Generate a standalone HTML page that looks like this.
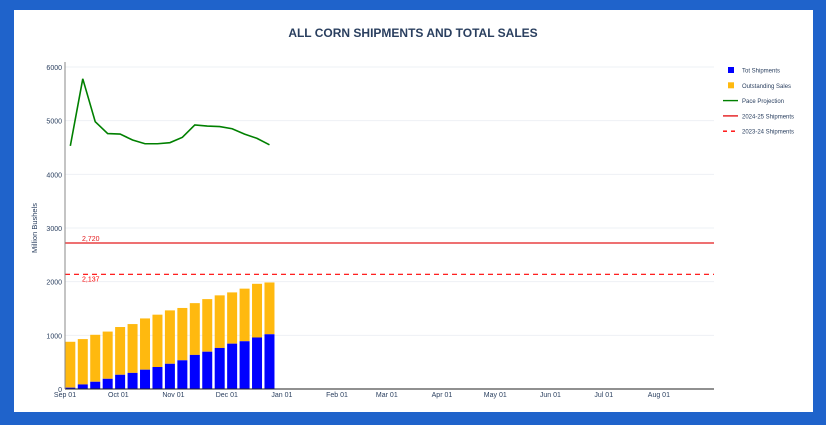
<!DOCTYPE html>
<html><head><meta charset="utf-8"><style>
body{margin:0;width:826px;height:425px;background:#1f63cb;overflow:hidden;font-family:"Liberation Sans",sans-serif}
#panel{position:absolute;left:14px;top:10px;width:799px;height:402px;background:#fff}
</style></head><body>
<div id="panel"></div>
<svg id="chart" width="826" height="425" style="position:absolute;left:0;top:0"></svg>
<script>
const categories=[3,10,17,24,31,38,45,52,59,66,73,80,87,94,101,108,115];
const shipments=[25,85,135,190,265,300,360,410,470,535,635,695,765,845,890,960,1020];
const totals=[880,930,1010,1070,1155,1210,1315,1385,1465,1510,1600,1675,1745,1800,1870,1960,1985];
const pace=[4530,5780,4980,4760,4750,4640,4570,4570,4590,4690,4920,4900,4890,4850,4750,4670,4550];
const yTicks=[0,1000,2000,3000,4000,5000,6000];
const xTickLabels=["Sep 01","Oct 01","Nov 01","Dec 01","Jan 01","Feb 01","Mar 01","Apr 01","May 01","Jun 01","Jul 01","Aug 01"];
const xTickDays=[0,30,61,91,122,153,181,212,242,273,303,334];
const ref2425=2720, ref2324=2137;

const NS="http://www.w3.org/2000/svg";
const svg=document.getElementById('chart');
const L=65,R=714,T=67,B=389;
const x=d=>L+d*(R-L)/365;
const y=v=>B-v*(B-T)/6000;
function mk(tag,attrs,parent){const e=document.createElementNS(NS,tag);for(const k in attrs)e.setAttribute(k,attrs[k]);(parent||svg).appendChild(e);return e;}

let t=mk('text',{x:413,y:37,'text-anchor':'middle','font-size':12,'font-weight':'bold',fill:'#2a3f5f'});
t.textContent='ALL CORN SHIPMENTS AND TOTAL SALES';



yTicks.forEach(v=>{
  const g=mk('line',{x1:L,x2:R,y1:y(v),y2:y(v),stroke:'#eef0f4','stroke-width':1});
  
  
  const l=mk('text',{x:L-3,y:y(v)+3,'text-anchor':'end','font-size':7,fill:'#2a3f5f'});
  l.textContent=v;
  
  
});
let yt=mk('text',{x:37,y:228,'text-anchor':'middle','font-size':7.5,fill:'#2a3f5f',transform:'rotate(-90 37 228)'});
yt.textContent='Million Bushels';



categories.forEach((d,i)=>{
  const w=10;
  const o=mk('rect',{x:x(d)-w/2,y:y(totals[i]),width:w,height:y(shipments[i])-y(totals[i]),fill:'#ffb90f'});
  
  
  const s=mk('rect',{x:x(d)-w/2,y:y(shipments[i]),width:w,height:B-y(shipments[i]),fill:'#0000ff'});
  
  
});

let r1=mk('line',{x1:L,x2:R,y1:y(ref2425),y2:y(ref2425),stroke:'#e41a1c','stroke-width':1.2});


let r2=mk('line',{x1:L,x2:R,y1:y(ref2324),y2:y(ref2324),stroke:'#ff0000','stroke-width':1.2,'stroke-dasharray':'5,4'});


let a1=mk('text',{x:82,y:y(ref2425)-2,'font-size':7,fill:'#e41a1c'});
a1.textContent=ref2425.toLocaleString('en-US');


let a2=mk('text',{x:82,y:y(ref2324)+7,'font-size':7,fill:'#ff0000'});
a2.textContent=ref2324.toLocaleString('en-US');



let p=mk('polyline',{points:categories.map((d,i)=>x(d)+','+y(pace[i])).join(' '),fill:'none',stroke:'#008000','stroke-width':1.6});



let ax=mk('line',{x1:L,x2:R,y1:B,y2:B,stroke:'#222','stroke-width':1});


let ay=mk('line',{x1:L,x2:L,y1:62,y2:B,stroke:'#888','stroke-width':1});



xTickLabels.forEach((lab,i)=>{
  const l=mk('text',{x:x(xTickDays[i]),y:397,'text-anchor':'middle','font-size':7,fill:'#2a3f5f'});
  l.textContent=lab;
  
  
});

const leg=[["Tot Shipments","sq","#0000ff"],["Outstanding Sales","sq","#ffb90f"],["Pace Projection","ln","#008000"],["2024-25 Shipments","ln","#e41a1c"],["2023-24 Shipments","dash","#ff0000"]];
leg.forEach((e,i)=>{
  const yy=70+i*15.3;
  const g=mk('g',{});
  
  
  if(e[1]=='sq') mk('rect',{x:728,y:yy-3,width:6,height:6,fill:e[2]},g);
  else mk('line',{x1:723,x2:738,y1:yy,y2:yy,stroke:e[2],'stroke-width':1.4,'stroke-dasharray':e[1]=='dash'?'4,4':'none'},g);
  const tx=mk('text',{x:742,y:yy+2.5,'font-size':6,fill:'#2a3f5f'},g);
  tx.textContent=e[0];
});
</script>
</body></html>
